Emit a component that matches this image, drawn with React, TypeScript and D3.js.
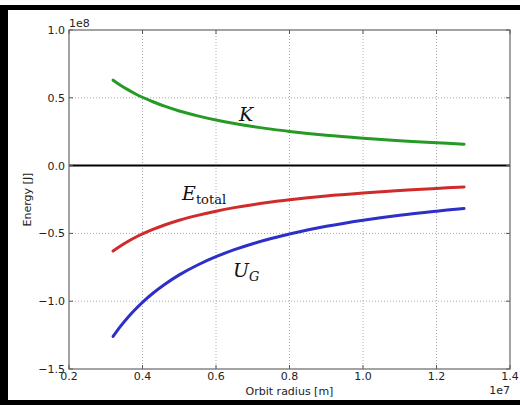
import React from "react";
import * as d3 from "d3";

// orbit radius in units of 1e7 m
const radius = [0.32, 0.34, 0.36, 0.38, 0.4, 0.43, 0.46, 0.5, 0.55, 0.6, 0.65, 0.7, 0.75, 0.8, 0.9, 1.0, 1.1, 1.2, 1.275];
// energies in units of 1e8 J
const kinetic = [0.63, 0.593, 0.56, 0.53, 0.504, 0.469, 0.438, 0.403, 0.367, 0.336, 0.31, 0.288, 0.269, 0.252, 0.224, 0.202, 0.183, 0.168, 0.158];
const total = [-0.63, -0.593, -0.56, -0.53, -0.504, -0.469, -0.438, -0.403, -0.367, -0.336, -0.31, -0.288, -0.269, -0.252, -0.224, -0.202, -0.183, -0.168, -0.158];
const potential = [-1.26, -1.186, -1.12, -1.061, -1.008, -0.938, -0.877, -0.806, -0.733, -0.672, -0.62, -0.576, -0.538, -0.504, -0.448, -0.403, -0.366, -0.336, -0.316];

const xTicks = [0.2, 0.4, 0.6, 0.8, 1.0, 1.2, 1.4];
const yTicks = [-1.5, -1.0, -0.5, 0.0, 0.5, 1.0];

const W = 520;
const H = 405;
const margin = { left: 69, right: 10, top: 30, bottom: 36 };

const App = () => {
  const x = d3.scaleLinear().domain([0.2, 1.4]).range([margin.left, W - margin.right]);
  const y = d3.scaleLinear().domain([-1.5, 1.0]).range([H - margin.bottom, margin.top]);

  const line = (vals: number[]) =>
    d3
      .line<number>()
      .x((_, i) => x(radius[i]))
      .y((d) => y(d))
      .curve(d3.curveCatmullRom)(vals) as string;

  const series = [
    { vals: kinetic, color: "#259a25" },
    { vals: total, color: "#cf2b2b" },
    { vals: potential, color: "#2e2ec8" },
  ];

  const font = "DejaVu Sans, sans-serif";
  const x0 = margin.left;
  const x1 = W - margin.right;
  const y0 = margin.top;
  const y1 = H - margin.bottom;

  return (
    <svg
      width={W}
      height={H}
      style={{ position: "absolute", left: 0, top: 0, background: "#fff" }}
    >
      {/* outer frame */}
      <rect x={0} y={5} width={8} height={400} fill="#000" />
      <rect x={0} y={5} width={W} height={5} fill="#000" />
      <rect x={0} y={400} width={W} height={5} fill="#000" />

      {/* grid */}
      {xTicks.slice(1, -1).map((t) => (
        <line key={"gx" + t} x1={x(t)} x2={x(t)} y1={y0} y2={y1} stroke="#aaa" strokeDasharray="1,2" />
      ))}
      {yTicks.slice(1, -1).map((t) => (
        <line key={"gy" + t} x1={x0} x2={x1} y1={y(t)} y2={y(t)} stroke="#aaa" strokeDasharray="1,2" />
      ))}

      {/* zero line */}
      <line x1={x0} x2={x1} y1={y(0)} y2={y(0)} stroke="#000" strokeWidth={2} />

      {series.map((s, i) => (
        <path key={i} d={line(s.vals)} fill="none" stroke={s.color} strokeWidth={3} strokeLinecap="round" />
      ))}

      {/* ticks */}
      {xTicks.map((t) => (
        <g key={"tx" + t}>
          <line x1={x(t)} x2={x(t)} y1={y1} y2={y1 - 4} stroke="#555" />
          <line x1={x(t)} x2={x(t)} y1={y0} y2={y0 + 4} stroke="#555" />
          <text x={x(t)} y={y1 + 11} textAnchor="middle" fontFamily={font} fontSize={11} fill="#222">
            {t.toFixed(1)}
          </text>
        </g>
      ))}
      {yTicks.map((t) => (
        <g key={"ty" + t}>
          <line x1={x0} x2={x0 + 4} y1={y(t)} y2={y(t)} stroke="#555" />
          <line x1={x1} x2={x1 - 4} y1={y(t)} y2={y(t)} stroke="#555" />
          <text x={x0 - 4} y={y(t) + 4} textAnchor="end" fontFamily={font} fontSize={11} fill="#222">
            {t < 0 ? "\u2212" + Math.abs(t).toFixed(1) : t.toFixed(1)}
          </text>
        </g>
      ))}

      {/* spines */}
      <rect x={x0} y={y0} width={x1 - x0} height={y1 - y0} fill="none" stroke="#666" strokeWidth={1.2} />

      {/* offset labels */}
      <text x={x0} y={27} fontFamily={font} fontSize={11} fill="#222">1e8</text>
      <text x={x1} y={394} textAnchor="end" fontFamily={font} fontSize={11} fill="#222">1e7</text>

      {/* axis titles */}
      <text x={(x0 + x1) / 2} y={395} textAnchor="middle" fontFamily={font} fontSize={11} fill="#222">
        Orbit radius [m]
      </text>
      <text
        transform={`translate(31,${(y0 + y1) / 2}) rotate(-90)`}
        textAnchor="middle"
        fontFamily={font}
        fontSize={11}
        fill="#222"
      >
        Energy [J]
      </text>

      {/* curve labels */}
      <text x={239} y={121} fontFamily="DejaVu Serif, serif" fontStyle="italic" fontSize={19} fill="#111">
        K
      </text>
      <text x={182} y={200} fontFamily="DejaVu Serif, serif" fill="#111">
        <tspan fontStyle="italic" fontSize={19}>E</tspan>
        <tspan fontSize={13} dy={4}>total</tspan>
      </text>
      <text x={233} y={277} fontFamily="DejaVu Serif, serif" fill="#111">
        <tspan fontStyle="italic" fontSize={19}>U</tspan>
        <tspan fontStyle="italic" fontSize={13} dy={4}>G</tspan>
      </text>
    </svg>
  );
};

export default App;
